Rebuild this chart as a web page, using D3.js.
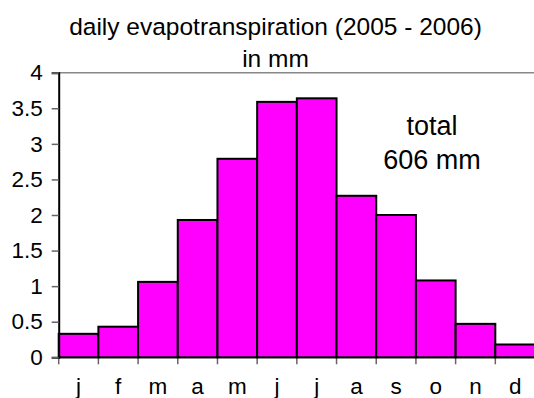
<!DOCTYPE html>
<html>
<head>
<meta charset="utf-8">
<script src="https://cdn.jsdelivr.net/npm/d3@7"></script>
<style>
	body { margin: 0; background: #fff; }
	svg { display: block; }
	svg text { font-family: 'Liberation Sans', Arial, sans-serif; }
</style>
</head>
<body>
<div id="chart"></div>
<script>
const months = ['j', 'f', 'm', 'a', 'm', 'j', 'j', 'a', 's', 'o', 'n', 'd'];
const evapotranspiration = [0.33, 0.43, 1.06, 1.93, 2.79, 3.59, 3.64, 2.27, 2.0, 1.08, 0.47, 0.18];
const yTicks = [0, 0.5, 1, 1.5, 2, 2.5, 3, 3.5, 4];
const titleLines = ['daily evapotranspiration (2005 - 2006)', 'in mm'];
const totalLines = ['total', '606 mm'];

function Histogram(){
	const self = {
		_width: 534,
		_height: 398,
		_margin: {top: 72.7, right: -1, bottom: 40.7, left: 58.7},
		_barColor: '#ff00ff',
	};

	function _init(){
		self.render = _render;
		return self;
	}

	function _render(container){
		const m = self._margin,
			svg = d3.select(container).append('svg')
				.attr('width', self._width)
				.attr('height', self._height);

		const x = d3.scaleBand()
			.domain(d3.range(months.length))
			.range([m.left, self._width - m.right])
			.padding(0);

		const y = d3.scaleLinear()
			.domain([0, 4])
			.range([self._height - m.bottom, m.top]);

		// top border of the plot area
		svg.append('line')
			.attr('x1', m.left).attr('x2', self._width)
			.attr('y1', y(4)).attr('y2', y(4))
			.attr('stroke', '#888').attr('stroke-width', 1.5);

		// x axis
		const xAxis = svg.append('g')
			.attr('transform', `translate(0, ${y(0)})`)
			.call(d3.axisBottom(x).tickSize(0).tickFormat(i=>months[i]));
		xAxis.attr('font-family', null).attr('font-size', 22.5);
		xAxis.select('.domain').attr('stroke', '#888').attr('stroke-width', 1.5);
		xAxis.selectAll('text')
			.attr('dy', 0)
			.attr('y', 36.5)
			.attr('fill', '#000');

		// x tick marks sit on band edges
		svg.append('g').selectAll('line')
			.data(d3.range(months.length))
			.join('line')
				.attr('x1', d=>x(d)).attr('x2', d=>x(d))
				.attr('y1', y(0)).attr('y2', y(0) + 7)
				.attr('stroke', '#666').attr('stroke-width', 1.5);

		// bars
		svg.append('g').selectAll('rect')
			.data(evapotranspiration)
			.join('rect')
				.attr('x', (d, i)=>x(i))
				.attr('y', d=>y(d))
				.attr('width', x.bandwidth())
				.attr('height', d=>y(0) - y(d))
				.attr('fill', self._barColor)
				.attr('stroke', '#000')
				.attr('stroke-width', 2);

		// y axis
		const yAxis = svg.append('g')
			.attr('transform', `translate(${m.left}, 0)`)
			.call(d3.axisLeft(y).tickValues(yTicks).tickSize(7).tickPadding(9).tickFormat(d3.format('')));
		yAxis.attr('font-family', null).attr('font-size', 22.5);
		yAxis.select('.domain').attr('stroke', '#000').attr('stroke-width', 2);
		yAxis.selectAll('.tick line').attr('stroke', '#666').attr('stroke-width', 1.5);
		yAxis.selectAll('text').attr('fill', '#000');

		// title
		svg.append('g').selectAll('text')
			.data(titleLines)
			.join('text')
				.attr('x', 275.5)
				.attr('y', (d, i)=>35 + i * 31.7)
				.attr('text-anchor', 'middle')
				.attr('font-size', 24.5)
				.text(d=>d);

		// total annotation
		svg.append('g').selectAll('text')
			.data(totalLines)
			.join('text')
				.attr('x', 432)
				.attr('y', (d, i)=>135 + i * 33.5)
				.attr('text-anchor', 'middle')
				.attr('font-size', 27)
				.text(d=>d);
	}

	return _init();
}

Histogram().render(document.getElementById('chart'));
</script>
</body>
</html>
